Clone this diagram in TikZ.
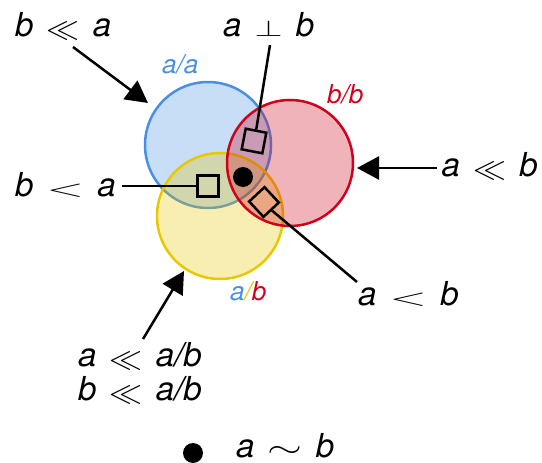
\documentclass[tikz,border=0pt]{standalone}
\usepackage{graphicx}
\usepackage{fontspec}
\setmainfont{TeX Gyre Heros}
\usetikzlibrary{arrows.meta}
\definecolor{cblue}{RGB}{74,144,226}
\definecolor{cred}{RGB}{208,2,27}
\definecolor{cyel}{RGB}{232,200,0}
% #1 x-scale, #2 y-scale, #3 raise, #4 math symbol
\newcommand{\rel}[4]{\hspace{0.4em}\raisebox{#3}{\scalebox{#1}[#2]{\fontsize{10}{12}\selectfont$#4$}}\hspace{0.4em}}
\newcommand{\LL}{\rel{3.3}{3.0}{-2.5pt}{\ll}}
\newcommand{\LT}{\rel{4.8}{2.3}{-0.5pt}{<}}
\newcommand{\PP}{\rel{3.6}{2.3}{0pt}{\perp}}
\newcommand{\SM}{\rel{4.5}{3.0}{0pt}{\sim}}
\tikzset{
  lbl/.style={font=\fontsize{33}{36}\selectfont\itshape, inner sep=0pt},
  small/.style={font=\fontsize{26}{30}\selectfont\itshape, inner sep=0pt},
  set/.style={circle, minimum size=126pt, inner sep=0pt, line width=2.5pt, fill opacity=0.3},
  box/.style={draw=black, line width=2.5pt, minimum size=21pt, inner sep=0pt},
  conn/.style={draw=black, line width=2.5pt},
  arr/.style={conn, -{Triangle[length=22pt,width=23pt]}},
}
\begin{document}
\begin{tikzpicture}[x=1pt,y=-1pt]
\useasboundingbox (0,0) rectangle (542,463);
% sets
\node[set, draw=cblue, fill=cblue] (A) at (208,145) {};
\node[set, draw=cyel, fill=cyel] (Y) at (220,216) {};
\node[set, draw=cred, fill=cred] (R) at (290,163) {};
% labels of sets
\node[small, anchor=base west, text=cblue] (la) at (162,73) {a/a};
\node[small, anchor=base west, text=cred] (lb) at (327,103) {b/b};
\node[small, anchor=base west] (lab) at (230,300) {\textcolor{cblue}{a}\textcolor{cyel}{/}\textcolor{cred}{b}};
% markers
\node[box] (s1) at (208,186) {};
\node[box, rotate=-11] (s2) at (254,141) {};
\node[box, rotate=43] (s3) at (264,202) {};
\node[circle, fill=black, minimum size=20pt, inner sep=0pt] (d1) at (243,177) {};
% texts
\node[lbl, anchor=base west] (t1) at (15,36) {b\LL a};
\node[lbl, anchor=base west] (t2) at (223,37) {a\PP b};
\node[lbl, anchor=base east] (t3) at (538,176) {a\LL b};
\node[lbl, anchor=base west] (t4) at (15,196) {b\LT a};
\node[lbl, anchor=base west] (t5) at (358,305) {a\LT b};
\node[lbl, anchor=base west] (t6) at (78,366) {a\LL a/b};
\node[lbl, anchor=base west] (t7) at (78,400) {b\LL a/b};
\node[circle, fill=black, minimum size=20pt, inner sep=0pt] (d2) at (193,453) {};
\node[lbl, anchor=base west] (t8) at (236,457) {a\SM b};
% connectors
\coordinate (c1a) at (73,47);   \coordinate (c1b) at (148,103);
\coordinate (c3a) at (437,168); \coordinate (c3b) at (357,168);
\coordinate (c6a) at (143,339); \coordinate (c6b) at (184,271);
\coordinate (c2) at (270,45);
\coordinate (c4) at (122,186);
\coordinate (c5) at (357,282);
\draw[arr] (c1a) -- (c1b);
\draw[arr] (c3a) -- (c3b);
\draw[arr] (c6a) -- (c6b);
\draw[conn] (c2) -- (s2.north);
\draw[conn] (c4) -- (s1.west);
\draw[conn] (s3.south) -- (c5);
\end{tikzpicture}
\end{document}
